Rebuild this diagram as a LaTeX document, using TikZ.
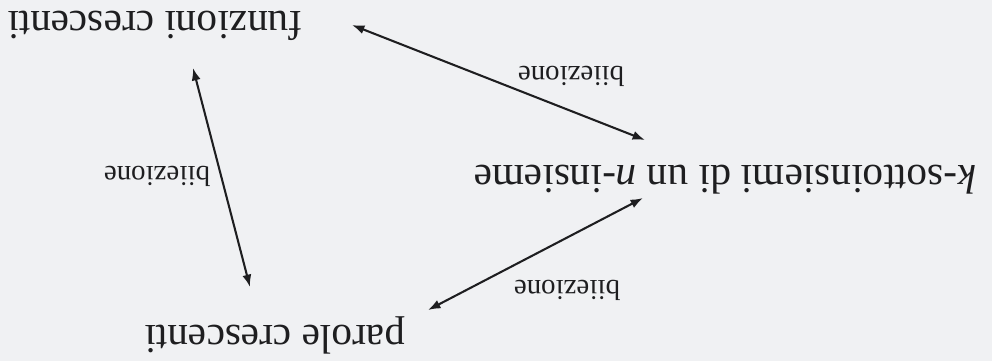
\documentclass[tikz,border=0pt]{standalone}
\usepackage{fontspec}
\setmainfont{Liberation Serif}
\usetikzlibrary{arrows.meta}
\definecolor{fondo}{RGB}{240,241,243}
\definecolor{inchiostro}{RGB}{30,30,32}

\begin{document}
\begin{tikzpicture}[x=0.242pt, y=-0.242pt, every node/.style={rotate=180, inner sep=0pt, text=inchiostro},
    biiez/.style={font=\fontsize{7}{8}\selectfont},
    freccia/.style={{Latex[length=3pt,width=2.2pt]}-{Latex[length=3pt,width=2.2pt]}, line width=0.5pt, draw=inchiostro}]
    \fill[fondo] (0,0) rectangle (992,361);
    \node (funz) at (155,26) {funzioni crescenti};
    \node (ksott) at (725,180) {\textit{k}-sottoinsiemi di un \textit{n}-insieme};
    \node (parole) at (275,335) {parole crescenti};
    \coordinate (f1) at (352,25);
    \coordinate (k1) at (645,140);
    \coordinate (k2) at (643,198);
    \coordinate (p1) at (428,310);
    \coordinate (p2) at (250,287);
    \coordinate (f2) at (193,68);
    \draw[freccia] (f1) -- (k1) node[biiez] at (571,76) {biiezione};
    \draw[freccia] (p1) -- (k2) node[biiez] at (567,290) {biiezione};
    \draw[freccia] (f2) -- (p2) node[biiez] at (157,176) {biiezione};
\end{tikzpicture}
\end{document}
